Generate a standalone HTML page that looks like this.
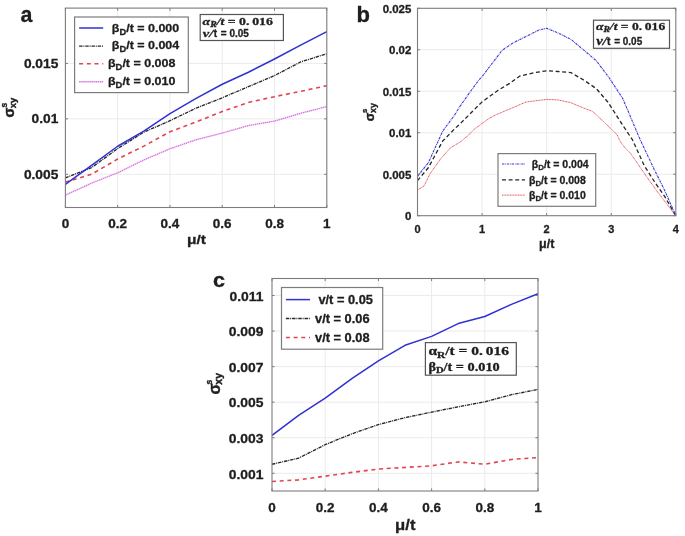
<!DOCTYPE html>
<html><head><meta charset="utf-8"><style>
html,body{margin:0;padding:0;background:#fff;}
svg{display:block;filter:blur(0.35px);}
text{stroke:#1e1e1e;stroke-width:0.3px;}
</style></head><body>
<svg width="685" height="536" viewBox="0 0 685 536">
<rect width="685" height="536" fill="#fff"/>
<line x1="117.68" y1="8.10" x2="117.68" y2="207.50" stroke="#ebebeb" stroke-width="1"/>
<line x1="169.96" y1="8.10" x2="169.96" y2="207.50" stroke="#ebebeb" stroke-width="1"/>
<line x1="222.24" y1="8.10" x2="222.24" y2="207.50" stroke="#ebebeb" stroke-width="1"/>
<line x1="274.52" y1="8.10" x2="274.52" y2="207.50" stroke="#ebebeb" stroke-width="1"/>
<line x1="65.40" y1="174.30" x2="326.80" y2="174.30" stroke="#ebebeb" stroke-width="1"/>
<line x1="65.40" y1="118.85" x2="326.80" y2="118.85" stroke="#ebebeb" stroke-width="1"/>
<line x1="65.40" y1="63.40" x2="326.80" y2="63.40" stroke="#ebebeb" stroke-width="1"/>
<polyline points="65.40,195.15 91.54,183.17 117.68,172.86 143.82,159.88 169.96,148.79 196.10,139.70 222.24,133.05 248.38,125.61 274.52,121.07 300.66,113.30 326.80,106.54" fill="none" stroke="#d872e2" stroke-width="1.4" stroke-dasharray="1.45,0.6" stroke-linejoin="round" stroke-linecap="butt"/>
<polyline points="65.40,182.06 91.54,174.30 117.68,159.00 143.82,146.13 169.96,131.71 196.10,121.96 222.24,111.53 248.38,102.44 274.52,96.67 300.66,91.35 326.80,85.69" fill="none" stroke="#e2444e" stroke-width="1.6" stroke-dasharray="4,3.7" stroke-linejoin="round" stroke-linecap="butt"/>
<polyline points="65.40,177.85 91.54,167.65 117.68,148.57 143.82,132.16 169.96,120.74 196.10,108.09 222.24,97.78 248.38,86.69 274.52,75.60 300.66,61.96 326.80,53.75" fill="none" stroke="#262626" stroke-width="1.35" stroke-dasharray="3.4,0.9,1,0.9" stroke-linejoin="round" stroke-linecap="butt"/>
<polyline points="65.40,184.28 91.54,165.43 117.68,146.24 143.82,131.05 169.96,113.64 196.10,98.44 222.24,84.25 248.38,72.27 274.52,58.96 300.66,45.10 326.80,31.57" fill="none" stroke="#3030d4" stroke-width="1.5" stroke-linejoin="round" stroke-linecap="butt"/>
<path d="M65.40 207.50V204.90M65.40 8.10V10.70M117.68 207.50V204.90M117.68 8.10V10.70M169.96 207.50V204.90M169.96 8.10V10.70M222.24 207.50V204.90M222.24 8.10V10.70M274.52 207.50V204.90M274.52 8.10V10.70M326.80 207.50V204.90M326.80 8.10V10.70M65.40 174.30H68.00M326.80 174.30H324.20M65.40 118.85H68.00M326.80 118.85H324.20M65.40 63.40H68.00M326.80 63.40H324.20" stroke="#7c7c7c" stroke-width="1" fill="none"/>
<rect x="65.40" y="8.10" width="261.40" height="199.40" fill="none" stroke="#7c7c7c" stroke-width="1.1"/>
<text transform="translate(65.40 227.80) scale(1.080 1)" font-family='"Liberation Sans", sans-serif' font-size="12.50" font-weight="bold" text-anchor="middle" fill="#1e1e1e">0</text>
<text transform="translate(117.68 227.80) scale(1.080 1)" font-family='"Liberation Sans", sans-serif' font-size="12.50" font-weight="bold" text-anchor="middle" fill="#1e1e1e">0.2</text>
<text transform="translate(169.96 227.80) scale(1.080 1)" font-family='"Liberation Sans", sans-serif' font-size="12.50" font-weight="bold" text-anchor="middle" fill="#1e1e1e">0.4</text>
<text transform="translate(222.24 227.80) scale(1.080 1)" font-family='"Liberation Sans", sans-serif' font-size="12.50" font-weight="bold" text-anchor="middle" fill="#1e1e1e">0.6</text>
<text transform="translate(274.52 227.80) scale(1.080 1)" font-family='"Liberation Sans", sans-serif' font-size="12.50" font-weight="bold" text-anchor="middle" fill="#1e1e1e">0.8</text>
<text transform="translate(326.80 227.80) scale(1.080 1)" font-family='"Liberation Sans", sans-serif' font-size="12.50" font-weight="bold" text-anchor="middle" fill="#1e1e1e">1</text>
<text transform="translate(58.30 178.60) scale(1.100 1)" font-family='"Liberation Sans", sans-serif' font-size="12.50" font-weight="bold" text-anchor="end" fill="#1e1e1e">0.005</text>
<text transform="translate(58.30 123.15) scale(1.100 1)" font-family='"Liberation Sans", sans-serif' font-size="12.50" font-weight="bold" text-anchor="end" fill="#1e1e1e">0.01</text>
<text transform="translate(58.30 67.70) scale(1.100 1)" font-family='"Liberation Sans", sans-serif' font-size="12.50" font-weight="bold" text-anchor="end" fill="#1e1e1e">0.015</text>
<text transform="translate(196.50 244.20) scale(1.150 1)" font-family='"Liberation Sans", sans-serif' font-size="13.50" font-weight="bold" text-anchor="middle" fill="#1e1e1e">&#956;/t</text>
<text transform="translate(20.40 22.00) scale(0.950 1)" font-family='"Liberation Sans", sans-serif' font-size="22.50" font-weight="bold" text-anchor="start" fill="#1e1e1e">a</text>
<line x1="482.07" y1="8.30" x2="482.07" y2="215.70" stroke="#ebebeb" stroke-width="1"/>
<line x1="546.65" y1="8.30" x2="546.65" y2="215.70" stroke="#ebebeb" stroke-width="1"/>
<line x1="611.22" y1="8.30" x2="611.22" y2="215.70" stroke="#ebebeb" stroke-width="1"/>
<line x1="417.50" y1="174.22" x2="675.80" y2="174.22" stroke="#ebebeb" stroke-width="1"/>
<line x1="417.50" y1="132.74" x2="675.80" y2="132.74" stroke="#ebebeb" stroke-width="1"/>
<line x1="417.50" y1="91.26" x2="675.80" y2="91.26" stroke="#ebebeb" stroke-width="1"/>
<line x1="417.50" y1="49.78" x2="675.80" y2="49.78" stroke="#ebebeb" stroke-width="1"/>
<polyline points="417.50,189.98 423.96,186.08 429.77,174.22 440.75,158.62 450.43,147.84 460.12,142.03 468.51,135.15 474.00,129.42 482.07,123.53 487.89,119.22 495.64,114.90 509.84,108.93 525.99,102.04 546.65,99.39 557.95,99.89 570.87,102.71 583.78,108.10 592.50,111.34 602.83,120.88 611.22,129.09 617.04,134.73 620.27,141.53 624.79,147.51 630.60,153.48 642.87,171.32 657.72,192.22 675.80,215.70" fill="none" stroke="#e2444e" stroke-width="1.0" stroke-dasharray="1,0.6" stroke-linejoin="round" stroke-linecap="butt"/>
<polyline points="417.50,180.61 428.48,167.50 442.68,141.04 454.31,129.17 460.12,123.78 482.07,101.88 498.22,90.18 509.84,83.30 519.53,76.16 534.38,72.59 546.65,70.77 557.95,71.52 570.87,72.59 583.78,80.06 596.37,88.69 608.00,102.21 622.20,124.44 632.53,139.96 644.16,165.43 654.49,181.77 664.82,196.70 675.80,215.70" fill="none" stroke="#262626" stroke-width="1.3" stroke-dasharray="4,2.6" stroke-linejoin="round" stroke-linecap="butt"/>
<polyline points="417.50,176.29 428.48,162.52 442.68,131.16 454.31,115.48 460.12,106.11 469.81,92.34 478.85,79.98 482.07,76.74 491.76,63.88 502.09,50.36 513.07,42.89 525.99,36.51 538.90,30.04 546.65,28.29 557.95,32.86 570.87,39.33 583.78,50.11 596.37,60.81 609.29,77.99 622.85,98.73 640.28,139.96 654.49,169.91 664.82,190.73 675.80,215.70" fill="none" stroke="#3c3cd8" stroke-width="1.15" stroke-dasharray="2.4,0.8,0.8,0.8" stroke-linejoin="round" stroke-linecap="butt"/>
<path d="M417.50 215.70V213.10M417.50 8.30V10.90M482.07 215.70V213.10M482.07 8.30V10.90M546.65 215.70V213.10M546.65 8.30V10.90M611.22 215.70V213.10M611.22 8.30V10.90M675.80 215.70V213.10M675.80 8.30V10.90M417.50 215.70H420.10M675.80 215.70H673.20M417.50 174.22H420.10M675.80 174.22H673.20M417.50 132.74H420.10M675.80 132.74H673.20M417.50 91.26H420.10M675.80 91.26H673.20M417.50 49.78H420.10M675.80 49.78H673.20M417.50 8.30H420.10M675.80 8.30H673.20" stroke="#7c7c7c" stroke-width="1" fill="none"/>
<rect x="417.50" y="8.30" width="258.30" height="207.40" fill="none" stroke="#7c7c7c" stroke-width="1.1"/>
<text transform="translate(417.50 233.30) scale(1.000 1)" font-family='"Liberation Sans", sans-serif' font-size="11.00" font-weight="bold" text-anchor="middle" fill="#1e1e1e">0</text>
<text transform="translate(482.07 233.30) scale(1.000 1)" font-family='"Liberation Sans", sans-serif' font-size="11.00" font-weight="bold" text-anchor="middle" fill="#1e1e1e">1</text>
<text transform="translate(546.65 233.30) scale(1.000 1)" font-family='"Liberation Sans", sans-serif' font-size="11.00" font-weight="bold" text-anchor="middle" fill="#1e1e1e">2</text>
<text transform="translate(611.22 233.30) scale(1.000 1)" font-family='"Liberation Sans", sans-serif' font-size="11.00" font-weight="bold" text-anchor="middle" fill="#1e1e1e">3</text>
<text transform="translate(675.80 233.30) scale(1.000 1)" font-family='"Liberation Sans", sans-serif' font-size="11.00" font-weight="bold" text-anchor="middle" fill="#1e1e1e">4</text>
<text transform="translate(411.30 220.20) scale(1.040 1)" font-family='"Liberation Sans", sans-serif' font-size="11.00" font-weight="bold" text-anchor="end" fill="#1e1e1e">0</text>
<text transform="translate(411.30 178.72) scale(1.040 1)" font-family='"Liberation Sans", sans-serif' font-size="11.00" font-weight="bold" text-anchor="end" fill="#1e1e1e">0.005</text>
<text transform="translate(411.30 137.24) scale(1.040 1)" font-family='"Liberation Sans", sans-serif' font-size="11.00" font-weight="bold" text-anchor="end" fill="#1e1e1e">0.01</text>
<text transform="translate(411.30 95.76) scale(1.040 1)" font-family='"Liberation Sans", sans-serif' font-size="11.00" font-weight="bold" text-anchor="end" fill="#1e1e1e">0.015</text>
<text transform="translate(411.30 54.28) scale(1.040 1)" font-family='"Liberation Sans", sans-serif' font-size="11.00" font-weight="bold" text-anchor="end" fill="#1e1e1e">0.02</text>
<text transform="translate(411.30 12.80) scale(1.040 1)" font-family='"Liberation Sans", sans-serif' font-size="11.00" font-weight="bold" text-anchor="end" fill="#1e1e1e">0.025</text>
<text transform="translate(546.70 248.30) scale(1.000 1)" font-family='"Liberation Sans", sans-serif' font-size="12.50" font-weight="bold" text-anchor="middle" fill="#1e1e1e">&#956;/t</text>
<text transform="translate(356.50 21.80) scale(1.000 1)" font-family='"Liberation Sans", sans-serif' font-size="22.00" font-weight="bold" text-anchor="start" fill="#1e1e1e">b</text>
<line x1="325.20" y1="278.50" x2="325.20" y2="491.00" stroke="#ebebeb" stroke-width="1"/>
<line x1="378.40" y1="278.50" x2="378.40" y2="491.00" stroke="#ebebeb" stroke-width="1"/>
<line x1="431.60" y1="278.50" x2="431.60" y2="491.00" stroke="#ebebeb" stroke-width="1"/>
<line x1="484.80" y1="278.50" x2="484.80" y2="491.00" stroke="#ebebeb" stroke-width="1"/>
<line x1="272.00" y1="473.30" x2="538.00" y2="473.30" stroke="#ebebeb" stroke-width="1"/>
<line x1="272.00" y1="437.74" x2="538.00" y2="437.74" stroke="#ebebeb" stroke-width="1"/>
<line x1="272.00" y1="402.18" x2="538.00" y2="402.18" stroke="#ebebeb" stroke-width="1"/>
<line x1="272.00" y1="366.62" x2="538.00" y2="366.62" stroke="#ebebeb" stroke-width="1"/>
<line x1="272.00" y1="331.06" x2="538.00" y2="331.06" stroke="#ebebeb" stroke-width="1"/>
<line x1="272.00" y1="295.50" x2="538.00" y2="295.50" stroke="#ebebeb" stroke-width="1"/>
<polyline points="272.00,481.48 298.60,479.88 325.20,476.14 351.80,472.41 378.40,469.03 405.00,467.43 431.60,465.83 458.20,461.92 484.80,464.23 511.40,459.43 538.00,457.65" fill="none" stroke="#e2444e" stroke-width="1.6" stroke-dasharray="4,3.7" stroke-linejoin="round" stroke-linecap="butt"/>
<polyline points="272.00,464.23 298.60,458.19 325.20,444.67 351.80,433.83 378.40,424.58 405.00,417.65 431.60,412.14 458.20,406.80 484.80,401.82 511.40,394.71 538.00,389.38" fill="none" stroke="#262626" stroke-width="1.35" stroke-dasharray="3.4,0.9,1,0.9" stroke-linejoin="round" stroke-linecap="butt"/>
<polyline points="272.00,435.43 298.60,415.34 325.20,398.09 351.80,378.53 378.40,360.93 405.00,345.28 431.60,336.39 458.20,323.59 484.80,316.48 511.40,304.39 538.00,293.72" fill="none" stroke="#3030d4" stroke-width="1.5" stroke-linejoin="round" stroke-linecap="butt"/>
<path d="M272.00 491.00V488.40M272.00 278.50V281.10M325.20 491.00V488.40M325.20 278.50V281.10M378.40 491.00V488.40M378.40 278.50V281.10M431.60 491.00V488.40M431.60 278.50V281.10M484.80 491.00V488.40M484.80 278.50V281.10M538.00 491.00V488.40M538.00 278.50V281.10M272.00 473.30H274.60M538.00 473.30H535.40M272.00 437.74H274.60M538.00 437.74H535.40M272.00 402.18H274.60M538.00 402.18H535.40M272.00 366.62H274.60M538.00 366.62H535.40M272.00 331.06H274.60M538.00 331.06H535.40M272.00 295.50H274.60M538.00 295.50H535.40" stroke="#7c7c7c" stroke-width="1" fill="none"/>
<rect x="272.00" y="278.50" width="266.00" height="212.50" fill="none" stroke="#7c7c7c" stroke-width="1.1"/>
<text transform="translate(272.00 512.30) scale(1.000 1)" font-family='"Liberation Sans", sans-serif' font-size="13.50" font-weight="bold" text-anchor="middle" fill="#1e1e1e">0</text>
<text transform="translate(325.20 512.30) scale(1.000 1)" font-family='"Liberation Sans", sans-serif' font-size="13.50" font-weight="bold" text-anchor="middle" fill="#1e1e1e">0.2</text>
<text transform="translate(378.40 512.30) scale(1.000 1)" font-family='"Liberation Sans", sans-serif' font-size="13.50" font-weight="bold" text-anchor="middle" fill="#1e1e1e">0.4</text>
<text transform="translate(431.60 512.30) scale(1.000 1)" font-family='"Liberation Sans", sans-serif' font-size="13.50" font-weight="bold" text-anchor="middle" fill="#1e1e1e">0.6</text>
<text transform="translate(484.80 512.30) scale(1.000 1)" font-family='"Liberation Sans", sans-serif' font-size="13.50" font-weight="bold" text-anchor="middle" fill="#1e1e1e">0.8</text>
<text transform="translate(538.00 512.30) scale(1.000 1)" font-family='"Liberation Sans", sans-serif' font-size="13.50" font-weight="bold" text-anchor="middle" fill="#1e1e1e">1</text>
<text transform="translate(263.50 478.50) scale(1.030 1)" font-family='"Liberation Sans", sans-serif' font-size="13.50" font-weight="bold" text-anchor="end" fill="#1e1e1e">0.001</text>
<text transform="translate(263.50 442.94) scale(1.030 1)" font-family='"Liberation Sans", sans-serif' font-size="13.50" font-weight="bold" text-anchor="end" fill="#1e1e1e">0.003</text>
<text transform="translate(263.50 407.38) scale(1.030 1)" font-family='"Liberation Sans", sans-serif' font-size="13.50" font-weight="bold" text-anchor="end" fill="#1e1e1e">0.005</text>
<text transform="translate(263.50 371.82) scale(1.030 1)" font-family='"Liberation Sans", sans-serif' font-size="13.50" font-weight="bold" text-anchor="end" fill="#1e1e1e">0.007</text>
<text transform="translate(263.50 336.26) scale(1.030 1)" font-family='"Liberation Sans", sans-serif' font-size="13.50" font-weight="bold" text-anchor="end" fill="#1e1e1e">0.009</text>
<text transform="translate(263.50 300.70) scale(1.030 1)" font-family='"Liberation Sans", sans-serif' font-size="13.50" font-weight="bold" text-anchor="end" fill="#1e1e1e">0.011</text>
<text transform="translate(405.30 529.60) scale(1.150 1)" font-family='"Liberation Sans", sans-serif' font-size="14.50" font-weight="bold" text-anchor="middle" fill="#1e1e1e">&#956;/t</text>
<text transform="translate(212.90 286.70) scale(1.080 1)" font-family='"Liberation Sans", sans-serif' font-size="20.00" font-weight="bold" text-anchor="start" fill="#1e1e1e">c</text>
<rect x="74.60" y="17.00" width="113.70" height="75.60" fill="#fff" stroke="#7c7c7c" stroke-width="1.2"/>
<line x1="79.10" y1="28.00" x2="103.20" y2="28.00" stroke="#3030d4" stroke-width="1.5"/>
<text transform="translate(111.80 32.04) scale(1.085 1)" font-family='"Liberation Sans", sans-serif' font-size="11.50" font-weight="bold" fill="#1e1e1e">&#946;<tspan font-size="8.62" dy="2.53">D</tspan><tspan dy="-2.53">/t = 0.000</tspan></text>
<line x1="79.10" y1="46.10" x2="103.20" y2="46.10" stroke="#262626" stroke-width="1.35" stroke-dasharray="3.4,0.9,1,0.9"/>
<text transform="translate(111.80 49.14) scale(1.085 1)" font-family='"Liberation Sans", sans-serif' font-size="11.50" font-weight="bold" fill="#1e1e1e">&#946;<tspan font-size="8.62" dy="2.53">D</tspan><tspan dy="-2.53">/t = 0.004</tspan></text>
<line x1="79.10" y1="63.70" x2="103.20" y2="63.70" stroke="#e2444e" stroke-width="1.6" stroke-dasharray="4,3.7"/>
<text transform="translate(108.00 67.44) scale(1.085 1)" font-family='"Liberation Sans", sans-serif' font-size="11.50" font-weight="bold" fill="#1e1e1e">&#946;<tspan font-size="8.62" dy="2.53">D</tspan><tspan dy="-2.53">/t = 0.008</tspan></text>
<line x1="79.10" y1="81.70" x2="103.20" y2="81.70" stroke="#d872e2" stroke-width="1.4" stroke-dasharray="1.45,0.6"/>
<text transform="translate(108.00 85.24) scale(1.085 1)" font-family='"Liberation Sans", sans-serif' font-size="11.50" font-weight="bold" fill="#1e1e1e">&#946;<tspan font-size="8.62" dy="2.53">D</tspan><tspan dy="-2.53">/t = 0.010</tspan></text>
<rect x="498.00" y="153.60" width="97.70" height="52.70" fill="#fff" stroke="#7c7c7c" stroke-width="1.2"/>
<line x1="502.00" y1="164.00" x2="525.00" y2="164.00" stroke="#3c3cd8" stroke-width="1.15" stroke-dasharray="2.4,0.8,0.8,0.8"/>
<text transform="translate(531.80 167.78) scale(1.000 1)" font-family='"Liberation Sans", sans-serif' font-size="10.50" font-weight="bold" fill="#1e1e1e">&#946;<tspan font-size="7.88" dy="2.31">D</tspan><tspan dy="-2.31">/t = 0.004</tspan></text>
<line x1="502.00" y1="179.80" x2="525.00" y2="179.80" stroke="#262626" stroke-width="1.3" stroke-dasharray="4,2.6"/>
<text transform="translate(529.00 183.58) scale(1.000 1)" font-family='"Liberation Sans", sans-serif' font-size="10.50" font-weight="bold" fill="#1e1e1e">&#946;<tspan font-size="7.88" dy="2.31">D</tspan><tspan dy="-2.31">/t = 0.008</tspan></text>
<line x1="502.00" y1="195.10" x2="525.00" y2="195.10" stroke="#e2444e" stroke-width="1.0" stroke-dasharray="1,0.6"/>
<text transform="translate(529.00 198.88) scale(1.000 1)" font-family='"Liberation Sans", sans-serif' font-size="10.50" font-weight="bold" fill="#1e1e1e">&#946;<tspan font-size="7.88" dy="2.31">D</tspan><tspan dy="-2.31">/t = 0.010</tspan></text>
<rect x="281.50" y="287.50" width="101.20" height="61.70" fill="#fff" stroke="#7c7c7c" stroke-width="1.2"/>
<line x1="285.90" y1="299.60" x2="310.00" y2="299.60" stroke="#3030d4" stroke-width="1.5"/>
<text transform="translate(318.40 303.92) scale(1.070 1)" font-family='"Liberation Sans", sans-serif' font-size="12.00" font-weight="bold" fill="#1e1e1e">v/t = 0.05</text>
<line x1="285.90" y1="318.50" x2="310.00" y2="318.50" stroke="#262626" stroke-width="1.35" stroke-dasharray="3.4,0.9,1,0.9"/>
<text transform="translate(315.00 322.82) scale(1.070 1)" font-family='"Liberation Sans", sans-serif' font-size="12.00" font-weight="bold" fill="#1e1e1e">v/t = 0.06</text>
<line x1="285.90" y1="337.50" x2="310.00" y2="337.50" stroke="#e2444e" stroke-width="1.6" stroke-dasharray="4,3.7"/>
<text transform="translate(315.00 341.82) scale(1.070 1)" font-family='"Liberation Sans", sans-serif' font-size="12.00" font-weight="bold" fill="#1e1e1e">v/t = 0.08</text>
<rect x="200.20" y="14.50" width="83.20" height="26.00" fill="#fff" stroke="#555" stroke-width="1.2"/>
<text x="202.60" y="24.60" font-family='"Liberation Serif", serif' font-size="10.80" font-weight="bold" fill="#1e1e1e" textLength="70.30" lengthAdjust="spacingAndGlyphs"><tspan font-style="italic">&#945;</tspan><tspan font-style="italic" font-size="7.56" dy="2.16">R</tspan><tspan dy="-2.16" font-style="italic">/t</tspan> = 0.&#8201;016</text>
<text x="202.80" y="37.30" font-family='"Liberation Serif", serif' font-size="11.00" font-weight="bold" font-style="italic" fill="#1e1e1e" textLength="10.6" lengthAdjust="spacingAndGlyphs">v/</text>
<text x="213.70" y="37.30" font-family='"Liberation Sans", sans-serif' font-size="10.00" font-weight="bold" fill="#1e1e1e">t</text>
<text x="220.80" y="37.30" font-family='"Liberation Sans", sans-serif' font-size="10.00" font-weight="bold" fill="#1e1e1e" textLength="28.00" lengthAdjust="spacingAndGlyphs">= 0.05</text>
<rect x="593.50" y="20.20" width="76.00" height="28.10" fill="#fff" stroke="#555" stroke-width="1.2"/>
<text x="596.00" y="30.20" font-family='"Liberation Serif", serif' font-size="11.20" font-weight="bold" fill="#1e1e1e" textLength="69.20" lengthAdjust="spacingAndGlyphs"><tspan font-style="italic">&#945;</tspan><tspan font-style="italic" font-size="7.84" dy="2.24">R</tspan><tspan dy="-2.24" font-style="italic">/t</tspan> = 0.&#8201;016</text>
<text x="596.20" y="44.70" font-family='"Liberation Serif", serif' font-size="11.55" font-weight="bold" font-style="italic" fill="#1e1e1e" textLength="10.6" lengthAdjust="spacingAndGlyphs">v/</text>
<text x="607.10" y="44.70" font-family='"Liberation Sans", sans-serif' font-size="10.50" font-weight="bold" fill="#1e1e1e">t</text>
<text x="614.20" y="44.70" font-family='"Liberation Sans", sans-serif' font-size="10.50" font-weight="bold" fill="#1e1e1e" textLength="28.00" lengthAdjust="spacingAndGlyphs">= 0.05</text>
<rect x="425.40" y="342.60" width="90.90" height="32.60" fill="#fff" stroke="#555" stroke-width="1.2"/>
<text x="428.4" y="355.2" font-family='"Liberation Serif", serif' font-size="11.5" font-weight="bold" fill="#1e1e1e" textLength="80.6" lengthAdjust="spacingAndGlyphs">&#945;<tspan font-size="8.5" dy="2.5">R</tspan><tspan dy="-2.5">/t = 0.&#8201;016</tspan></text>
<text x="428.4" y="370.8" font-family='"Liberation Serif", serif' font-size="11.5" font-weight="bold" fill="#1e1e1e" textLength="71.3" lengthAdjust="spacingAndGlyphs">&#946;<tspan font-size="8.5" dy="2.5">D</tspan><tspan dy="-2.5">/t = 0.010</tspan></text>
<g transform="translate(14.30 117.60) rotate(-90)" font-family='"Liberation Sans", sans-serif' font-weight="bold" fill="#1e1e1e"><text x="0" y="0" font-size="14.50" style="stroke-width:0.4px">&#963;</text><text x="10.00" y="-7.00" font-size="8.50" style="stroke-width:0.35px">s</text><text x="9.40" y="1.80" font-size="9.50" style="stroke-width:0.4px">xy</text></g>
<g transform="translate(373.80 121.30) rotate(-90)" font-family='"Liberation Sans", sans-serif' font-weight="bold" fill="#1e1e1e"><text x="0" y="0" font-size="12.50" style="stroke-width:0.4px">&#963;</text><text x="8.30" y="-6.70" font-size="7.80" style="stroke-width:0.35px">s</text><text x="8.30" y="1.90" font-size="8.80" style="stroke-width:0.4px">xy</text></g>
<g transform="translate(219.50 394.40) rotate(-90)" font-family='"Liberation Sans", sans-serif' font-weight="bold" fill="#1e1e1e"><text x="0" y="0" font-size="16.00" style="stroke-width:0.4px">&#963;</text><text x="10.00" y="-7.80" font-size="8.50" style="stroke-width:0.35px">s</text><text x="9.70" y="2.30" font-size="10.50" style="stroke-width:0.4px">xy</text></g>
</svg>
</body></html>
